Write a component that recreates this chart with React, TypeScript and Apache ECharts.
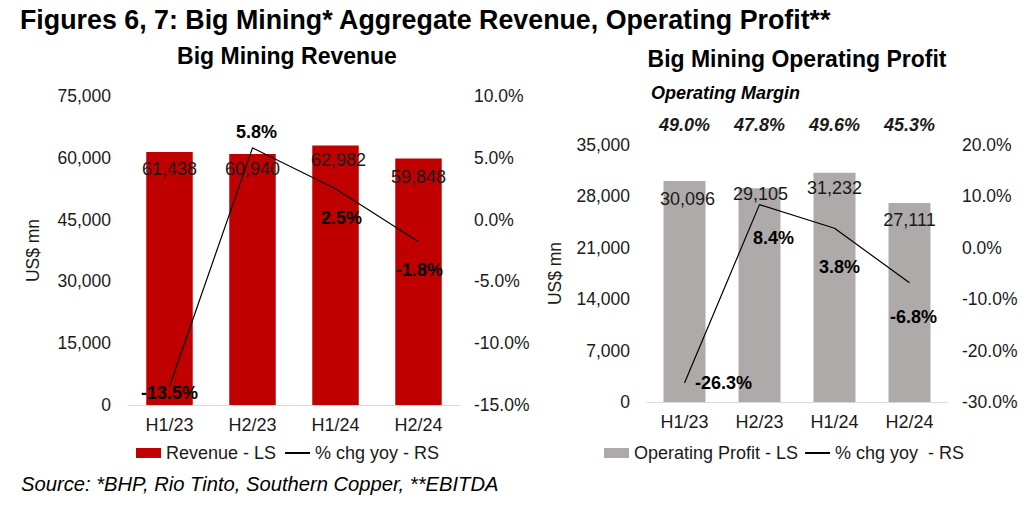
import React, { useEffect, useRef } from "react";
import * as echarts from "echarts";

const categories = ["H1/23", "H2/23", "H1/24", "H2/24"];
const revenue = [61438, 60940, 62982, 59848];
const revenueChg = [-13.5, 5.8, 2.5, -1.8];
const opProfit = [30096, 29105, 31232, 27111];
const opProfitChg = [-26.3, 8.4, 3.8, -6.8];
const opMargins = ["49.0%", "47.8%", "49.6%", "45.3%"];

const revTicks = { min: 0, max: 75000, interval: 15000 };
const revPctTicks = { min: -15, max: 10, interval: 5 };
const opTicks = { min: 0, max: 35000, interval: 7000 };
const opPctTicks = { min: -30, max: 20, interval: 10 };

// label placements (pixel offsets), kept apart from the values
const revBarLabelOffsets = [[0, 3.5], [0, 1.5], [3, 0.5], [0, 4.5]];
const revLineLabelOffsets = [[0, 7], [4, -16], [6, 29], [1, 28]];
const opBarLabelOffsets = [[3, 3.5], [1, -8.5], [0, 1.5], [0, 3.5]];
const opLineLabelOffsets = [[39, 0], [14, 33], [5, 39], [4, 34]];

const FONT = "'Liberation Sans', Arial, sans-serif";
const TXT = "#1a1a1a";
const RED = "#C00000";
const GRAY = "#AEAAAA";
const CLEAR = "rgba(0,0,0,0)";

const fmtNum = (v: number) => v.toLocaleString("en-US");
const fmtPct = (v: number) => v.toFixed(1) + "%";

export default function App() {
  const ref = useRef<HTMLDivElement>(null);
  useEffect(() => {
    document.body.style.margin = "0";
    if (!ref.current) return;
    const chart = echarts.init(ref.current, null, { renderer: "svg" });
    const yLabel = { color: TXT, fontFamily: FONT, fontSize: 17.5 };
    const xAxisBase = {
      type: "category" as const,
      data: categories,
      axisTick: { show: false },
      axisLine: { lineStyle: { color: "#d9d9d9", width: 1 } },
      axisLabel: { color: TXT, fontFamily: FONT, fontSize: 18, margin: 11 },
    };
    const yBase = {
      type: "value" as const,
      splitLine: { show: false },
      axisLine: { show: false },
      axisTick: { show: false },
    };
    const lineLabel = {
      show: true,
      position: "inside",
      color: "#000",
      opacity: 1,
      fontFamily: FONT,
      fontSize: 18,
      fontWeight: "bold",
      formatter: (p: any) => fmtPct(p.value),
    };
    const barLabel = {
      show: true,
      position: "insideTop",
      color: TXT,
      fontFamily: FONT,
      fontSize: 18,
      formatter: (p: any) => fmtNum(p.value),
    };
    const legendBase = {
      top: 444,
      padding: 0,
      itemGap: 8,
      itemWidth: 25,
      itemHeight: 10,
      textStyle: { color: TXT, fontFamily: FONT, fontSize: 18 },
    };
    const option: any = {
      animation: false,
      textStyle: { fontFamily: FONT },
      grid: [
        { left: 128, top: 96, width: 332, height: 309 },
        { left: 647, top: 145, width: 300, height: 257 },
      ],
      xAxis: [
        { ...xAxisBase, gridIndex: 0 },
        { ...xAxisBase, gridIndex: 1 },
        {
          type: "category",
          gridIndex: 1,
          position: "top",
          data: opMargins,
          axisLine: { show: false },
          axisTick: { show: false },
          axisLabel: {
            color: TXT,
            fontFamily: FONT,
            fontSize: 18,
            fontWeight: "bold",
            fontStyle: "italic",
            margin: 11,
          },
        },
      ],
      yAxis: [
        {
          ...yBase,
          gridIndex: 0,
          ...revTicks,
          axisLabel: { ...yLabel, margin: 17, formatter: (v: number) => fmtNum(v) },
          name: "US$ mn",
          nameLocation: "middle",
          nameGap: 86,
          nameTextStyle: { ...yLabel },
        },
        {
          ...yBase,
          gridIndex: 0,
          position: "right",
          ...revPctTicks,
          axisLabel: { ...yLabel, margin: 14, formatter: (v: number) => fmtPct(v) },
        },
        {
          ...yBase,
          gridIndex: 1,
          ...opTicks,
          axisLabel: { ...yLabel, margin: 17, formatter: (v: number) => fmtNum(v) },
          name: "US$ mn",
          nameLocation: "middle",
          nameGap: 83,
          nameTextStyle: { ...yLabel },
        },
        {
          ...yBase,
          gridIndex: 1,
          position: "right",
          ...opPctTicks,
          axisLabel: { ...yLabel, margin: 15, formatter: (v: number) => fmtPct(v) },
        },
      ],
      legend: [
        {
          ...legendBase,
          left: 136,
          data: [
            { name: "Revenue - LS", icon: "rect" },
            { name: "% chg yoy - RS" },
          ],
        },
        {
          ...legendBase,
          left: 604,
          itemGap: 6,
          data: [
            { name: "Operating Profit - LS", icon: "rect" },
            { name: "% chg yoy  - RS" },
          ],
        },
      ],
      series: [
        {
          name: "Revenue - LS",
          type: "bar",
          xAxisIndex: 0,
          yAxisIndex: 0,
          barWidth: "56%",
          itemStyle: { color: RED },
          data: revenue.map((v, i) => ({ value: v, label: { offset: revBarLabelOffsets[i] } })),
          label: barLabel,
        },
        {
          name: "% chg yoy - RS",
          type: "line",
          xAxisIndex: 0,
          yAxisIndex: 1,
          symbol: "circle",
          symbolSize: 1,
          showSymbol: true,
          lineStyle: { color: "#000", width: 1.2 },
          itemStyle: { color: CLEAR, borderWidth: 0 },
          data: revenueChg.map((v, i) => ({ value: v, label: { offset: revLineLabelOffsets[i] } })),
          label: lineLabel,
          z: 5,
        },
        {
          name: "Operating Profit - LS",
          type: "bar",
          xAxisIndex: 1,
          yAxisIndex: 2,
          barWidth: "56%",
          itemStyle: { color: GRAY },
          data: opProfit.map((v, i) => ({ value: v, label: { offset: opBarLabelOffsets[i] } })),
          label: barLabel,
        },
        {
          name: "% chg yoy  - RS",
          type: "line",
          xAxisIndex: 1,
          yAxisIndex: 3,
          symbol: "circle",
          symbolSize: 1,
          showSymbol: true,
          lineStyle: { color: "#000", width: 1.2 },
          itemStyle: { color: CLEAR, borderWidth: 0 },
          data: opProfitChg.map((v, i) => ({ value: v, label: { offset: opLineLabelOffsets[i] } })),
          label: lineLabel,
          z: 5,
        },
      ],
      graphic: [
        {
          type: "text",
          x: 20,
          y: 20,
          style: {
            text: "Figures 6, 7: Big Mining* Aggregate Revenue, Operating Profit**",
            font: `bold 26.8px ${FONT}`,
            fill: "#000",
            textVerticalAlign: "middle",
          },
        },
        {
          type: "text",
          x: 287,
          y: 56,
          style: {
            text: "Big Mining Revenue",
            font: `bold 23px ${FONT}`,
            fill: "#000",
            textAlign: "center",
            textVerticalAlign: "middle",
          },
        },
        {
          type: "text",
          x: 797,
          y: 59,
          style: {
            text: "Big Mining Operating Profit",
            font: `bold 23px ${FONT}`,
            fill: "#000",
            textAlign: "center",
            textVerticalAlign: "middle",
          },
        },
        {
          type: "text",
          x: 651,
          y: 93,
          style: {
            text: "Operating Margin",
            font: `italic bold 18px ${FONT}`,
            fill: "#000",
            textVerticalAlign: "middle",
          },
        },
        {
          type: "text",
          x: 21,
          y: 484,
          style: {
            text: "Source: *BHP, Rio Tinto, Southern Copper, **EBITDA",
            font: `italic 20.2px ${FONT}`,
            fill: "#000",
            textVerticalAlign: "middle",
          },
        },
      ],
    };
    chart.setOption(option);
    return () => chart.dispose();
  }, []);
  return <div ref={ref} style={{ width: 1031, height: 508 }} />;
}
